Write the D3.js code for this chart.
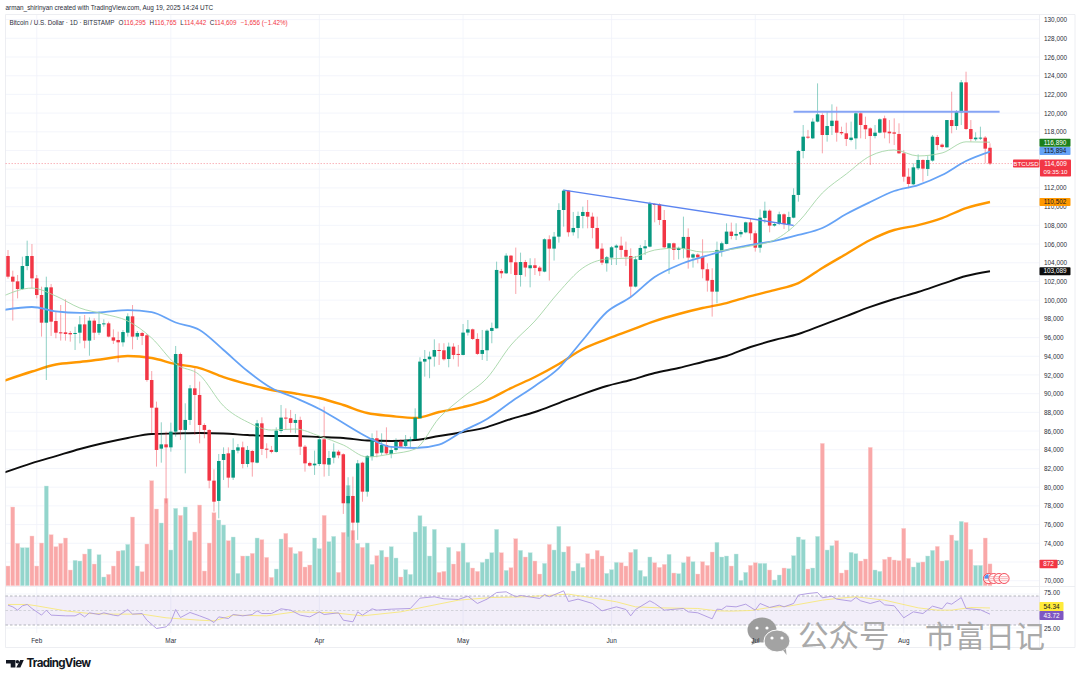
<!DOCTYPE html>
<html>
<head>
<meta charset="utf-8">
<script src="https://cdn.jsdelivr.net/npm/d3@7"></script>
<style>
    html, body { margin: 0; padding: 0; background: #fff; }
    svg { display: block; }
    text { font-family: "Liberation Sans", Arial, sans-serif; }
</style>
</head>
<body>
<div id="chart"></div>
<script>
// daily candles from Jan 26 to Aug 19, prices in thousands of USD
const opens = [
    104.72,102.51,102.01,101.19,103.65,104.72,102.33,100.55,97.59,101.37,
    97.77,96.56,96.56,96.49,96.38,96.52,97.41,95.67,97.81,96.52,
    97.41,97.52,96.02,95.74,95.49,96.52,98.27,96.10,96.49,96.24,
    91.46,88.50,84.12,84.58,84.26,85.94,94.24,86.12,87.19,90.57,
    89.86,86.65,86.12,80.70,78.53,82.91,83.62,81.02,83.91,84.26,
    82.48,83.87,82.62,86.83,84.12,83.98,83.77,86.01,87.44,87.37,
    86.87,87.19,84.33,82.59,82.34,82.48,85.12,82.41,83.16,83.80,
    83.52,78.28,79.06,76.21,82.62,79.52,83.27,85.23,83.69,84.51,
    83.55,83.98,84.87,84.41,84.98,85.15,87.37,93.43,93.68,93.96,
    94.67,94.64,93.71,95.03,94.25,94.14,96.53,96.88,95.85,94.25,
    94.64,96.71,96.99,103.12,102.87,104.76,104.05,102.69,104.08,103.41,
    103.73,103.48,103.05,106.51,105.51,106.79,109.64,111.71,107.26,107.72,
    109.0,109.43,108.93,107.72,105.51,103.94,104.55,105.62,105.83,105.37,
    104.72,101.45,104.30,105.54,105.72,110.28,110.25,108.57,105.58,106.08,
    105.37,105.51,106.76,104.55,104.87,104.65,103.30,102.16,100.91,105.29,
    106.01,107.33,106.90,107.04,107.25,108.32,107.15,105.61,108.79,109.57,
    107.97,108.14,109.18,108.11,108.82,111.25,115.95,117.48,117.30,119.09,
    119.80,117.66,118.62,119.19,117.98,117.84,117.13,117.30,119.98,118.73,
    118.37,117.55,117.91,119.44,118.02,117.94,117.77,115.70,113.20,112.39,
    114.10,114.99,114.03,114.92,117.45,116.63,116.34,119.26,118.62,120.08,
    123.29,118.30,117.20,117.27,117.38,116.295
];
const highs = [
    105.36,103.15,102.69,104.65,106.36,106.0,102.69,101.44,102.51,101.73,
    98.77,99.48,100.09,96.70,97.16,98.30,98.41,98.16,98.06,98.77,
    97.95,97.70,96.88,96.63,96.81,98.59,99.48,96.70,96.63,96.38,
    92.42,89.15,86.94,85.94,86.90,95.10,94.39,88.97,90.93,92.71,
    91.29,86.83,86.19,81.91,83.55,84.26,84.26,85.23,84.62,84.87,
    84.41,83.98,87.19,87.47,84.69,84.41,86.40,88.79,88.43,88.26,
    87.83,87.54,84.51,82.73,83.91,85.40,88.61,83.87,84.69,83.98,
    83.62,81.06,81.13,82.91,82.73,83.44,85.76,86.05,85.76,86.40,
    84.41,85.23,85.12,85.58,85.40,88.43,93.89,94.67,94.50,95.81,
    95.39,95.39,95.46,95.39,95.21,97.45,97.88,96.96,96.46,96.81,
    96.88,97.60,104.12,103.34,105.01,104.83,105.62,105.08,104.30,104.48,
    104.48,103.66,106.61,106.93,107.29,110.36,111.85,111.78,109.43,109.47,
    110.0,110.71,109.36,108.93,106.08,104.72,105.79,105.97,106.79,106.26,
    105.54,104.72,105.90,106.43,110.53,110.36,110.36,109.64,106.08,106.15,
    105.72,108.93,107.68,105.01,105.01,106.51,103.94,103.41,106.26,106.26,
    108.22,108.29,108.22,107.50,108.39,108.68,107.43,109.71,110.53,109.71,
    108.29,109.46,109.28,109.46,111.96,116.06,118.73,118.20,119.44,123.18,
    119.98,120.16,120.94,120.69,118.55,118.98,119.09,120.16,120.16,119.62,
    118.48,118.73,119.44,119.73,119.26,119.44,118.91,116.06,114.10,114.63,
    115.59,115.06,115.41,117.66,117.66,116.77,119.26,122.29,120.33,123.54,
    124.43,119.26,117.95,118.55,117.55,116.765
];
const lows = [
    102.3,97.81,100.19,101.1,103.2,101.26,100.19,96.10,91.46,96.17,
    95.92,95.67,95.67,95.56,94.67,95.38,94.85,94.06,95.74,96.27,
    97.16,96.02,95.31,93.35,95.03,96.10,94.74,95.74,95.20,91.28,
    85.76,82.20,82.62,78.28,83.80,85.40,85.05,81.48,86.65,85.58,
    84.69,85.23,79.88,77.39,76.67,80.77,79.95,80.77,83.62,82.02,
    82.13,81.13,82.55,83.44,83.09,83.62,83.69,85.76,86.12,85.83,
    85.76,83.44,81.66,82.20,81.31,82.27,81.13,81.20,82.55,83.09,
    77.14,74.71,74.36,74.36,78.45,78.99,82.84,83.19,83.44,83.44,
    83.09,83.80,84.26,84.26,84.16,85.05,87.37,91.82,91.65,92.89,
    93.07,93.53,92.82,93.68,92.89,94.10,96.21,95.74,94.14,93.60,
    93.50,95.39,96.96,102.34,102.80,102.80,100.66,101.45,102.52,101.37,
    102.69,102.59,102.98,102.09,104.23,106.15,107.86,106.79,106.90,106.61,
    107.68,107.68,106.61,105.44,103.76,103.05,103.76,103.76,104.55,103.66,
    100.38,101.37,104.30,104.83,105.65,108.32,108.04,105.54,102.80,104.30,
    104.37,104.48,103.37,103.48,103.94,102.34,100.91,98.24,99.66,104.65,
    105.97,106.51,106.43,106.72,107.15,106.43,105.19,105.08,108.22,107.25,
    107.86,108.04,107.61,107.40,108.75,110.53,115.17,117.23,117.23,119.01,
    115.70,116.95,117.66,116.95,117.66,116.48,116.98,116.13,117.30,117.23,
    114.45,117.30,117.84,117.30,116.77,116.59,115.63,112.67,111.96,112.31,
    113.92,112.67,113.28,114.81,116.06,116.23,116.31,117.84,118.20,118.73,
    118.20,116.95,117.02,117.13,114.63,114.442
];
const closes = [
    102.51,101.98,101.19,103.65,104.72,102.33,100.55,97.59,101.37,97.70,
    96.52,96.45,96.38,96.34,96.49,97.41,95.67,97.81,96.52,97.45,
    97.52,96.10,95.67,95.49,96.59,98.27,96.10,96.49,96.17,91.46,
    88.50,83.98,84.58,84.26,85.94,94.24,86.12,87.19,90.57,89.86,
    86.65,86.12,80.70,78.45,82.80,83.55,81.02,83.98,84.26,82.48,
    83.98,82.66,86.83,84.09,84.01,83.77,86.05,87.44,87.40,86.87,
    87.19,84.33,82.55,82.30,82.52,85.12,82.45,83.12,83.80,83.41,
    78.28,79.06,76.21,82.55,79.52,83.34,85.23,83.62,84.51,83.62,
    83.98,84.87,84.33,85.05,85.15,87.44,93.43,93.71,93.96,94.67,
    94.60,93.68,95.03,94.14,94.14,96.53,96.88,95.85,94.25,94.67,
    96.74,97.03,103.23,102.87,104.76,104.05,102.69,104.08,103.48,103.73,
    103.44,103.09,106.51,105.51,106.79,109.64,111.71,107.26,107.72,109.0,
    109.43,108.93,107.72,105.51,104.01,104.58,105.65,105.83,105.37,104.65,
    101.45,104.37,105.58,105.76,110.36,110.21,108.57,105.65,106.08,105.37,
    105.58,106.76,104.55,104.90,104.58,103.30,102.09,100.91,105.37,106.08,
    107.33,106.86,107.08,107.29,108.32,107.15,105.61,108.82,109.57,107.97,
    108.14,109.18,108.14,108.89,111.25,115.95,117.48,117.38,119.09,119.87,
    117.66,118.62,119.19,117.91,117.84,117.23,117.38,119.98,118.73,118.27,
    117.55,117.91,119.34,117.94,117.84,117.80,115.70,113.20,112.42,114.20,
    114.99,114.06,114.99,117.48,116.59,116.38,119.26,118.62,120.16,123.29,
    118.30,117.23,117.38,117.38,116.20,114.609
];
const volumes = [
    787,3147,1693,1520,1520,1987,787,1707,3987,2040,
    1560,1693,1907,627,1013,987,1267,1467,867,1240,
    347,453,787,1387,1413,1653,2747,787,560,1667,
    4200,3067,2507,3493,1427,3093,2813,3147,1800,2147,
    3227,587,1707,2920,2627,2427,1800,1947,493,1187,
    1187,1293,1907,1840,1133,333,667,1867,2093,1533,
    1280,1373,747,827,1907,1480,2813,1760,1973,533,
    2133,4013,2213,1693,1533,1707,853,1200,1413,1147,
    1560,1107,347,640,453,2147,2800,2373,1187,2253,
    533,573,1533,867,1373,1707,933,707,573,933,
    1067,1320,2253,1320,613,720,1880,1413,1147,1320,
    987,467,893,1653,1427,2373,1347,1573,587,893,
    733,1280,1067,1413,1187,493,640,933,920,787,
    1333,1453,613,373,1147,920,733,853,1253,507,
    480,920,1160,960,467,960,813,1347,1733,1147,
    1187,787,1267,213,533,813,920,893,893,627,
    227,427,707,680,1200,1947,1840,667,707,1973,
    5693,1427,1600,1800,507,627,1333,1280,987,1067,
    5533,627,573,1053,1147,1027,1000,2293,1093,747,
    920,947,1187,1413,1573,987,1013,2027,1800,2573,
    2533,1453,813,813,1907,872
];

// moving averages, read every fifth day
const maIndex = d3.range(0, 206, 5);
maIndex[0] = -1; // first reading sits at the left edge of the pane
const ma20 = [
    100.44,101.29,100.44,99.16,98.52,97.77,95.95,93.17,92.0,88.68,
    86.97,86.11,86.22,85.47,84.51,83.23,83.55,84.08,87.40,89.64,
    91.67,95.2,97.77,100.87,103.44,104.40,104.51,105.36,105.57,105.14,
    105.36,105.79,106.43,108.36,111.46,113.49,115.42,116.06,115.42,115.74,
    116.93,116.89
];
const ma50 = [
    98.94,99.27,98.79,98.63,98.73,98.94,98.73,97.61,96.81,94.67,
    92.42,90.60,89.54,88.36,86.86,85.37,84.30,84.19,84.56,86.01,
    87.29,89.11,90.82,92.74,95.74,98.73,100.33,102.47,103.76,104.62,
    105.36,105.90,106.33,106.97,107.72,109.21,110.49,111.67,112.31,113.38,
    114.88,115.89
];
const ma100 = [
    91.35,92.37,93.12,93.39,93.71,94.03,93.81,93.17,92.74,91.78,
    91.03,90.39,90.02,89.54,88.79,87.93,87.61,87.40,88.04,88.57,
    89.32,90.60,91.78,93.17,94.77,95.84,96.80,97.76,98.52,99.16,
    99.69,100.44,101.08,101.83,103.44,104.94,106.43,107.50,108.03,108.78,
    109.85,110.50
];
const ma200 = [
    81.52,82.58,83.33,84.08,84.72,85.26,85.69,85.74,85.79,85.74,
    85.58,85.47,85.47,85.37,85.26,84.99,84.94,85.04,85.47,85.90,
    86.43,87.29,88.04,89.0,89.96,90.82,91.46,92.21,92.74,93.39,
    94.03,94.99,95.74,96.38,97.34,98.30,99.27,100.12,100.87,101.73,
    102.58,103.09
];

// RSI, read at its turning points
const rsiIndex = [
    0,1,2,3,4,5,7,8,9,12,14,15,16,17,19,20,22,23,25,26,28,29,31,33,34,35,36,38,40,42,43,44,46,47,49,51,52,53,55,57,59,61,63,65,66,69,70,72,73,
    74,76,77,80,84,86,89,91,94,96,98,100,102,104,106,107,111,112,113,116,117,119,122,124,127,129,130,131,134,135,137,141,142,144,147,148,
    149,150,152,154,156,157,159,161,162,164,165,167,169,170,172,173,176,177,178,180,182,183,185,187,189,191,193,195,196,197,199,200,203,205
];
const rsiValues = [
    59.2,56.3,50.6,58,60.4,53.5,42,50.6,42,40.8,40.8,44.8,39,46,43.1,46,42,40.8,51.7,43.7,44.8,33.3,19,21.8,30.5,51.7,37.9,46.6,40.8,34.5,29.3,39,36.2,43.1,40.8,43.1,49.4,44.8,44.8,52.9,50.6,42,39,47.7,43.1,46,33.3,30.5,47.7,
    42,52.9,50.6,52.3,53.5,71.3,73.6,70.1,69,74.7,62.1,69.6,81,82.2,73.6,75.9,70.7,77.6,73.6,83.9,65.5,69.6,62.1,49.4,56.3,51.7,40.8,51.7,66.7,62.1,50.6,53.5,47.7,46,35.6,52.3,
    51.7,57.5,56.3,60.9,50.6,62.1,55.2,59.2,56.3,62.1,76.5,79.3,81,71.9,74.7,69.6,66.1,72.4,66.7,62.1,66.7,59.8,58.1,37.4,47.7,44.8,57.5,52.9,63.2,60.9,72.4,53.5,51.2,43.72
];
const rsiMaIndex = [0,4,6,12,17,22,28,33,40,43,47,54,60,68,74,82,86,94,101,108,117,122,127,131,136,144,148,151,155,159,163,170,173,177,183,190,194,197,201,205];
const rsiMaValues = [60.4,60.4,58,49.4,44.8,43.7,43.7,37.4,33.3,32.1,42,40.8,47.7,46,40.8,47.7,54.6,67.8,72.4,73.6,78.2,71.9,65,56.3,54.6,53.5,49.4,48.9,50,55.2,57.5,67.8,70.7,73.6,67.8,54.6,50.6,50.6,55.2,54.34];

// trend lines as [day index, price]
const trendFalling = [[116, 111.77], [164, 108.0]];
const trendFlat = [[164, 120.15], [207, 120.15]];

const priceTicks = d3.range(70, 131, 2);
const rsiTicks = [75, 25];
const monthIndex = [6, 34, 65, 95, 126, 156, 187];
const monthLabels = ["Feb", "Mar", "Apr", "May", "Jun", "Jul", "Aug"];

const green = "#089981";
const red = "#f23645";
const width = 1080;
const height = 680;
const plotLeft = 5.5;
const plotRight = 1039.5;

const svg = d3.select("#chart").append("svg")
    .attr("width", width)
    .attr("height", height);

svg.append("defs").append("clipPath").attr("id", "plotClip")
    .append("rect")
    .attr("x", plotLeft).attr("y", 15)
    .attr("width", plotRight - plotLeft).attr("height", 618);

const x = d3.scaleLinear().domain([0, 205]).range([8, 990]);
const y = d3.scaleLinear().domain([70, 130]).range([580.7, 19.6]);
const yVol = d3.scaleLinear().domain([0, 5700]).range([585.7, 443.2]);
const yRsi = d3.scaleLinear().domain([25, 75]).range([625, 596]);

// grid
const grid = svg.append("g").attr("stroke", "#f0f3fa").attr("stroke-width", 0.8);
grid.selectAll(".hgrid").data(priceTicks).join("line")
    .attr("x1", plotLeft).attr("x2", plotRight)
    .attr("y1", d => y(d)).attr("y2", d => y(d));
grid.selectAll(".vgrid").data(monthIndex).join("line")
    .attr("x1", d => x(d)).attr("x2", d => x(d))
    .attr("y1", 15).attr("y2", 633);
grid.append("line").attr("x1", plotLeft).attr("x2", plotRight).attr("y1", 594).attr("y2", 594);
grid.append("line").attr("x1", plotLeft).attr("x2", plotRight).attr("y1", 628).attr("y2", 628);

// frame
const frame = svg.append("g").attr("stroke", "#e8eaef").attr("stroke-width", 0.8);
frame.append("line").attr("x1", plotLeft).attr("x2", 1075).attr("y1", 14.5).attr("y2", 14.5);
frame.append("line").attr("x1", plotLeft).attr("x2", 1075).attr("y1", 586.5).attr("y2", 586.5);
frame.append("line").attr("x1", plotLeft).attr("x2", 1075).attr("y1", 647.5).attr("y2", 647.5);
frame.append("line").attr("x1", plotLeft).attr("x2", plotLeft).attr("y1", 14.5).attr("y2", 647.5);
frame.append("line").attr("x1", plotRight).attr("x2", plotRight).attr("y1", 14.5).attr("y2", 647.5);
frame.append("line").attr("x1", 1075).attr("x2", 1075).attr("y1", 14.5).attr("y2", 647.5);

const plot = svg.append("g").attr("clip-path", "url(#plotClip)");

// volume
plot.append("g").selectAll("rect").data(volumes).join("rect")
    .attr("x", (d, i) => x(i) - 2)
    .attr("width", 4)
    .attr("y", d => yVol(d))
    .attr("height", d => yVol(0) - yVol(d))
    .attr("fill", (d, i) => closes[i] >= opens[i] ? "#93d5cc" : "#f9a8a8")
    .attr("stroke", (d, i) => closes[i] >= opens[i] ? "#c6e9e4" : "#fcd2d2")
    .attr("stroke-width", 0.4);

// moving averages under the candles
const maLine = series => d3.line()
    .x((d, i) => x(maIndex[i]))
    .y(d => y(d))
    .curve(d3.curveMonotoneX)(series);

plot.append("path").attr("d", maLine(ma200)).attr("fill", "none").attr("stroke", "#0d0d0d").attr("stroke-width", 1.9);
plot.append("path").attr("d", maLine(ma100)).attr("fill", "none").attr("stroke", "#ff9800").attr("stroke-width", 2.4);

// wicks
plot.append("g").selectAll("line").data(opens).join("line")
    .attr("x1", (d, i) => x(i)).attr("x2", (d, i) => x(i))
    .attr("y1", (d, i) => y(highs[i]))
    .attr("y2", (d, i) => y(lows[i]))
    .attr("stroke", (d, i) => closes[i] >= d ? green : red)
    .attr("stroke-opacity", 0.5)
    .attr("stroke-width", 0.9);

// bodies
plot.append("g").selectAll("rect").data(opens).join("rect")
    .attr("x", (d, i) => x(i) - 1.75)
    .attr("width", 3.5)
    .attr("y", (d, i) => y(Math.max(d, closes[i])))
    .attr("height", (d, i) => Math.max(1, Math.abs(y(d) - y(closes[i]))))
    .attr("fill", (d, i) => closes[i] >= d ? green : red);

plot.append("path").attr("d", maLine(ma50)).attr("fill", "none").attr("stroke", "#66a3f6").attr("stroke-width", 1.8);
plot.append("path").attr("d", maLine(ma20)).attr("fill", "none").attr("stroke", "#a5d6a7").attr("stroke-width", 0.9);

// trend lines
const trendLine = d3.line().x(d => x(d[0])).y(d => y(d[1]));
plot.append("path").attr("d", trendLine(trendFalling)).attr("fill", "none").attr("stroke", "#5b84f0").attr("stroke-width", 1.4);
plot.append("path").attr("d", trendLine(trendFlat)).attr("fill", "none").attr("stroke", "#86a4f5").attr("stroke-width", 1.9);

// last price line
svg.append("line")
    .attr("x1", plotLeft).attr("x2", 1013)
    .attr("y1", y(closes[closes.length - 1])).attr("y2", y(closes[closes.length - 1]))
    .attr("stroke", red).attr("stroke-opacity", 0.6)
    .attr("stroke-width", 0.6).attr("stroke-dasharray", "1.5 1.5");

// RSI pane
svg.append("rect")
    .attr("x", plotLeft).attr("width", plotRight - plotLeft)
    .attr("y", yRsi(75)).attr("height", yRsi(25) - yRsi(75))
    .attr("fill", "#7e57c2").attr("fill-opacity", 0.1);
svg.append("g").selectAll("line").data([75, 50, 25]).join("line")
    .attr("x1", plotLeft).attr("x2", plotRight)
    .attr("y1", d => yRsi(d)).attr("y2", d => yRsi(d))
    .attr("stroke", d => d === 50 ? "#c4c6cd" : "#9598a1")
    .attr("stroke-width", 0.7)
    .attr("stroke-dasharray", "2.5 2");
const rsiLine = (idx, vals) => d3.line()
    .x((d, i) => x(idx[i]))
    .y(d => yRsi(d))(vals);
svg.append("path").attr("d", rsiLine(rsiMaIndex, rsiMaValues)).attr("fill", "none").attr("stroke", "#f7e87a").attr("stroke-width", 0.9);
svg.append("path").attr("d", rsiLine(rsiIndex, rsiValues)).attr("fill", "none").attr("stroke", "#ad96e0").attr("stroke-width", 0.9);

// WeChat watermark, laid over the panes but under the month labels
const mark = svg.append("g").attr("fill", "#a3a3a3");
mark.append("ellipse").attr("cx", 762).attr("cy", 630).attr("rx", 14.5).attr("ry", 12.5).attr("fill", "#9c9c9c");
mark.append("path").attr("d", "M753 639l-1.5 6 6-3z").attr("fill", "#9c9c9c");
mark.append("ellipse").attr("cx", 777).attr("cy", 641).attr("rx", 13).attr("ry", 11).attr("stroke", "#fff").attr("stroke-width", 1);
mark.append("path").attr("d", "M783 650l3.5 5 -0.5 -6z");
[[757, 628], [767, 628], [772, 638], [782, 638]].forEach(p => {
    mark.append("circle").attr("cx", p[0]).attr("cy", p[1]).attr("r", 1.6).attr("fill", "#fff");
});
svg.append("text").attr("x", 798).attr("y", 647)
    .attr("font-size", 30.5).attr("fill", "#aaaaaa").attr("font-weight", 400)
    .style("font-family", '"Noto Sans CJK SC", sans-serif')
    .text("公众号");
svg.append("text").attr("x", 925).attr("y", 647)
    .attr("font-size", 30).attr("fill", "#aaaaaa").attr("font-weight", 400)
    .style("font-family", '"Noto Sans CJK SC", sans-serif')
    .text("市富日记");

// price axis
const yAxis = d3.axisRight(y)
    .tickValues(priceTicks)
    .tickSize(0)
    .tickPadding(0)
    .tickFormat(d => d3.format(",")(d * 1000));
svg.append("g")
    .attr("transform", "translate(1044,0)")
    .call(yAxis)
    .call(g => g.select(".domain").remove())
    .call(g => g.selectAll("text").attr("font-size", 6.4).attr("fill", "#2a2e39")
        .style("font-family", '"Liberation Sans", Arial, sans-serif'));

// RSI ticks
const rsiAxisLabels = svg.append("g");
rsiAxisLabels.selectAll("text").data(rsiTicks).join("text")
    .attr("x", 1044)
    .attr("y", d => d === 75 ? 595 : 630.5)
    .attr("font-size", 6.4)
    .attr("fill", "#2a2e39")
    .text(d => d.toFixed(2));

// month labels
svg.append("g").selectAll("text").data(monthLabels).join("text")
    .attr("x", (d, i) => x(monthIndex[i]))
    .attr("y", 642.5)
    .attr("text-anchor", "middle")
    .attr("font-size", 6.4)
    .attr("fill", "#2a2e39")
    .text(d => d);

// value tags on the axis
const tags = [
    { label: "116,890", y: y(ma20[41]) + 0.5, w: 31, h: 8, fill: "#1b7f1b", color: "#fff" },
    { label: "115,894", y: y(ma50[41]) - 0.6, w: 31, h: 8, fill: "#66a3f6", color: "#131722" },
    { label: "110,502", y: y(ma100[41]), w: 31, h: 8, fill: "#ff9800", color: "#131722" },
    { label: "103,089", y: y(ma200[41]), w: 31, h: 8, fill: "#0d0d0d", color: "#fff" },
    { label: "872", y: 564, w: 18, h: 8.5, fill: red, color: "#fff" },
    { label: "54.34", y: 606.5, w: 24, h: 9, fill: "#ffeb3b", color: "#131722" },
    { label: "43.72", y: 615.5, w: 24, h: 9, fill: "#7e57c2", color: "#fff" }
];
const tagGroups = svg.append("g").selectAll("g").data(tags).join("g")
    .attr("transform", d => `translate(1039.5,${d.y})`);
tagGroups.append("rect")
    .attr("y", d => -d.h / 2).attr("width", d => d.w).attr("height", d => d.h)
    .attr("rx", 0.8)
    .attr("fill", d => d.fill);
tagGroups.append("text")
    .attr("x", d => d.w / 2).attr("y", 2.2)
    .attr("text-anchor", "middle")
    .attr("font-size", 6.4)
    .attr("fill", d => d.color)
    .text(d => d.label);

// last price tag
const lastY = y(closes[closes.length - 1]);
svg.append("rect").attr("x", 1013).attr("y", lastY - 4).attr("width", 26.5).attr("height", 8).attr("rx", 0.8).attr("fill", red);
svg.append("text").attr("x", 1026).attr("y", lastY + 2.2).attr("text-anchor", "middle").attr("font-size", 6.2).attr("fill", "#fff").text("BTCUSD");
svg.append("rect").attr("x", 1040).attr("y", lastY - 4).attr("width", 31).attr("height", 17).attr("rx", 0.8).attr("fill", red);
svg.append("text").attr("x", 1055.5).attr("y", lastY + 2.4).attr("text-anchor", "middle").attr("font-size", 6.4).attr("fill", "#fff").text("114,609");
svg.append("text").attr("x", 1055.5).attr("y", lastY + 10.4).attr("text-anchor", "middle").attr("font-size", 6.2).attr("fill", "#fff").text("09:35:10");

// upcoming event flags
const flags = svg.append("g");
[0, 1, 2, 3].forEach(k => {
    const cx = 988.5 + k * 5.2;
    flags.append("circle").attr("cx", cx).attr("cy", 578.5).attr("r", 5).attr("fill", "#fff").attr("stroke", red).attr("stroke-width", 0.9);
    [-1.8, 0.2, 2.2].forEach(dy => {
        flags.append("line").attr("x1", cx - 4).attr("x2", cx + 4)
            .attr("y1", 578.5 + dy).attr("y2", 578.5 + dy)
            .attr("stroke", "#f58a92").attr("stroke-width", 0.7);
    });
});
flags.append("path").attr("d", "M984.3 578.5a4.2 4.2 0 0 1 4.2 -4.2v4.2z").attr("fill", "#4f8ff0");

// header texts
svg.append("text").attr("x", 5.5).attr("y", 10.3).attr("font-size", 6.4).attr("fill", "#2a2e39")
    .text("arman_shirinyan created with TradingView.com, Aug 19, 2025 14:24 UTC");

const legendRow = [
    { x: 9.5, t: "Bitcoin / U.S. Dollar · 1D · BITSTAMP", c: "#2a2e39" },
    { x: 118.6, t: "O", c: "#2a2e39" },
    { x: 123.5, t: "116,295", c: red },
    { x: 149.6, t: "H", c: "#2a2e39" },
    { x: 154.3, t: "116,765", c: red },
    { x: 180.3, t: "L", c: "#2a2e39" },
    { x: 184, t: "114,442", c: red },
    { x: 209.8, t: "C", c: "#2a2e39" },
    { x: 214.3, t: "114,609", c: red },
    { x: 240.7, t: "−1,656 (−1.42%)", c: red }
];
svg.append("g").selectAll("text").data(legendRow).join("text")
    .attr("x", d => d.x).attr("y", 25)
    .attr("font-size", 6.3)
    .attr("fill", d => d.c)
    .text(d => d.t);

// TradingView logo
const logo = svg.append("g").attr("fill", "#131722");
logo.append("path").attr("d", "M6 660h9.4v7.6h-4.7v-4.2H6z");
logo.append("circle").attr("cx", 17.4).attr("cy", 661.8).attr("r", 1.8);
logo.append("path").attr("d", "M20.2 660h3.6l-3.4 7.6h-4.1z");
logo.append("text")
    .attr("x", 26.5).attr("y", 667.4)
    .attr("font-size", 11.6)
    .attr("font-weight", 700)
    .attr("fill", "#131722")
    .style("font-family", 'Inter, "Liberation Sans", sans-serif')
    .attr("textLength", 64.5)
    .text("TradingView");
</script>
</body>
</html>
